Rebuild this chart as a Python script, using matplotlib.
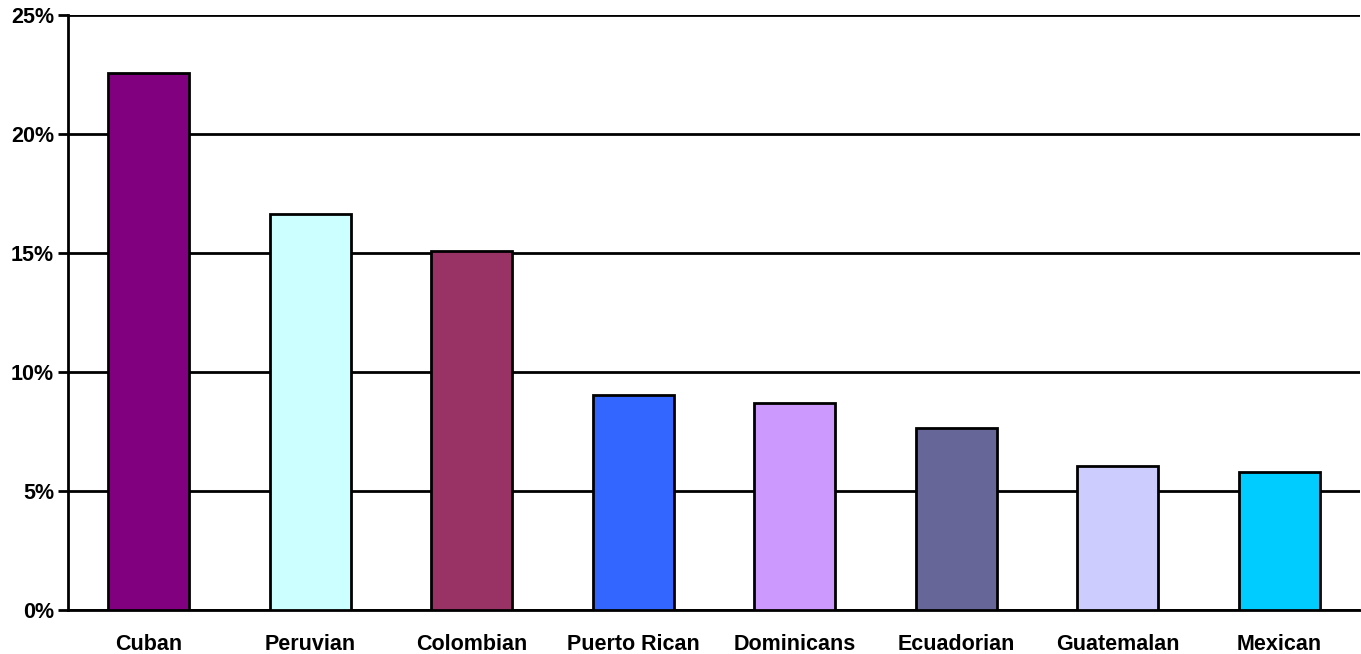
import matplotlib
matplotlib.use("Agg")
import matplotlib.pyplot as plt
from matplotlib.ticker import FuncFormatter

categories = ["Cuban", "Peruvian", "Colombian", "Puerto Rican", "Dominicans",
              "Ecuadorian", "Guatemalan", "Mexican"]
values = [22.55, 16.65, 15.07, 9.02, 8.69, 7.63, 6.03, 5.80]
colors = ["#800080", "#CCFFFF", "#993366", "#3366FF", "#CC99FF",
          "#666699", "#CCCCFF", "#00CCFF"]
yticks = [0, 5, 10, 15, 20, 25]

plt.rcParams['font.family'] = ['Liberation Sans', 'DejaVu Sans']
fig = plt.figure(figsize=(13.61, 6.54), dpi=100)
ax = fig.add_axes([68/1361, 1-610/654, (1360-68)/1361, (610-15)/654])

x = list(range(len(categories)))
ax.bar(x, values, width=0.5, color=colors, edgecolor="black", linewidth=2, zorder=3)
ax.set_xlim(-0.5, len(categories) - 0.5)
ax.set_ylim(0, 25)
ax.set_yticks(yticks)
ax.yaxis.set_major_formatter(FuncFormatter(lambda v, p: f"{int(v)}%"))
ax.yaxis.grid(True, color="black", linewidth=2, zorder=0)
ax.set_xticks(x)
ax.set_xticklabels(categories, fontsize=15.5, fontweight="bold")
for lbl in ax.get_yticklabels():
    lbl.set_fontsize(15.5)
    lbl.set_fontweight("bold")
ax.tick_params(axis="x", length=0, pad=17)
ax.tick_params(axis="y", length=7, width=2, pad=3)
for s in ["top", "right"]:
    ax.spines[s].set_visible(False)
ax.spines["left"].set_linewidth(2)
ax.spines["bottom"].set_linewidth(2)
ax.spines["left"].set_zorder(4)

fig.savefig("out.png", dpi=100)
